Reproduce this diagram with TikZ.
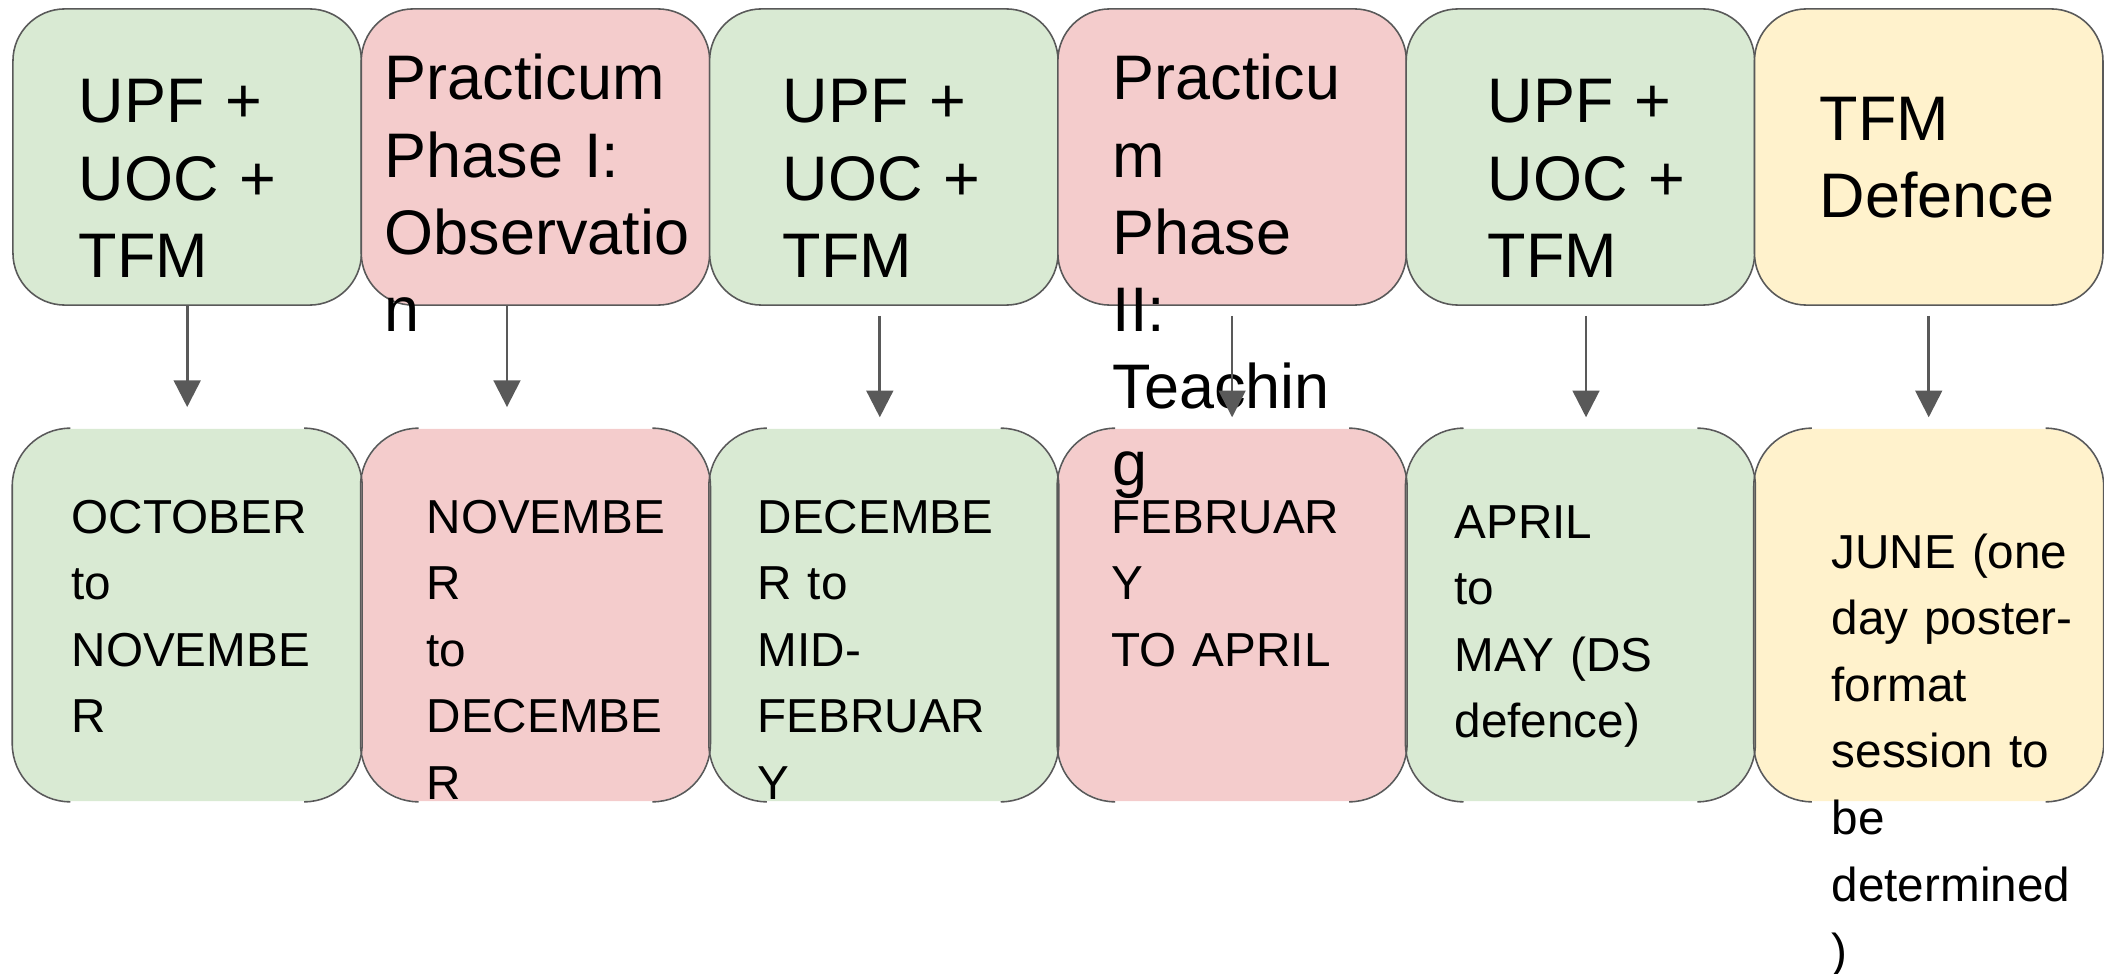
\documentclass[tikz,border=0pt]{standalone}
\usepackage{fontspec}
\setmainfont{Liberation Sans}
\usetikzlibrary{arrows.meta}
\definecolor{boxgreen}{HTML}{D9EAD3}
\definecolor{boxpink}{HTML}{F4CCCC}
\definecolor{boxyellow}{HTML}{FFF2CC}
\definecolor{edgegray}{HTML}{595959}

\tikzset{
  phasebox/.style  = {rectangle, rounded corners=0.52cm, draw=edgegray, line width=0.45pt,
                      minimum width=3.483cm, minimum height=2.96cm, inner sep=0pt},
  periodbox/.style = {rectangle, rounded corners=0.58cm, minimum width=3.483cm,
                      minimum height=3.72cm, inner sep=0pt},
  sideline/.style  = {draw=edgegray, line width=0.45pt, rounded corners=0.58cm},
  bigtext/.style   = {anchor=base west, inner sep=0pt, text width=3.6cm, align=left,
                      font=\fontsize{17.9}{21.9}\selectfont},
  smalltext/.style = {anchor=base west, inner sep=0pt, text width=3.6cm, align=left,
                      font=\fontsize{13.55}{18.95}\selectfont},
  tline/.style     = {draw=edgegray, line width=0.75pt, -{Triangle[length=7.6pt,width=7.6pt]}}
}

\begin{document}
\begin{tikzpicture}[x=0.01cm, y=-0.01cm]
   \useasboundingbox (0,0) rectangle (2104,973);

   \node [phasebox, fill=boxgreen ] (t1) at ( 187.2,157) {};
   \node [phasebox, fill=boxpink  ] (t2) at ( 535.5,157) {};
   \node [phasebox, fill=boxgreen ] (t3) at ( 883.8,157) {};
   \node [phasebox, fill=boxpink  ] (t4) at (1232.1,157) {};
   \node [phasebox, fill=boxgreen ] (t5) at (1580.4,157) {};
   \node [phasebox, fill=boxyellow] (t6) at (1928.7,157) {};

   \node [periodbox, fill=boxgreen ] (b1) at ( 187.2,615) {};
   \node [periodbox, fill=boxpink  ] (b2) at ( 535.5,615) {};
   \node [periodbox, fill=boxgreen ] (b3) at ( 883.8,615) {};
   \node [periodbox, fill=boxpink  ] (b4) at (1232.1,615) {};
   \node [periodbox, fill=boxgreen ] (b5) at (1580.4,615) {};
   \node [periodbox, fill=boxyellow] (b6) at (1928.7,615) {};

   \foreach \n in {b1,b2,b3,b4,b5,b6} {
      \draw [sideline] ([xshift=0.58cm]\n.north west) -- (\n.north west) -- (\n.south west) -- ([xshift=0.58cm]\n.south west);
      \draw [sideline] ([xshift=-0.58cm]\n.north east) -- (\n.north east) -- (\n.south east) -- ([xshift=-0.58cm]\n.south east);
   }

   \node [bigtext] (t1text) at (  78,123) {UPF +\\UOC +\\TFM};
   \node [bigtext] (t2text) at ( 384,100) {Practicum\\Phase I:\\Observatio\\n};
   \node [bigtext] (t3text) at ( 782,123) {UPF +\\UOC +\\TFM};
   \node [bigtext] (t4text) at (1112,100) {Practicu\\m\\Phase\\II:\\Teachin\\g};
   \node [bigtext] (t5text) at (1487,123) {UPF +\\UOC +\\TFM};
   \node [bigtext] (t6text) at (1819,140) {TFM\\Defence};

   \node [smalltext] (b1text) at (  71,533) {OCTOBER\\to\\NOVEMBE\\R};
   \node [smalltext] (b2text) at ( 426,533) {NOVEMBE\\R\\to\\DECEMBE\\R};
   \node [smalltext] (b3text) at ( 757,533) {DECEMBE\\R to\\MID-\\FEBRUAR\\Y};
   \node [smalltext] (b4text) at (1111,533) {FEBRUAR\\Y\\TO APRIL};
   \node [smalltext] (b5text) at (1454,538) {APRIL\\to\\MAY (DS\\defence)};
   \node [smalltext] (b6text) at (1831,568) {JUNE (one\\day poster-\\format\\session to\\be\\determined\\)};

   \draw [tline, shorten >=6pt] (t1.south) -- (b1.north);
   \draw [tline, shorten >=6pt] ([xshift=-0.285cm]t2.south) -- ([xshift=-0.285cm]b2.north);
   \draw [tline, shorten <=2.85pt, shorten >=3.1pt] ([xshift=-0.04cm]t3.south) -- ([xshift=-0.04cm]b3.north);
   \draw [tline, shorten <=2.85pt, shorten >=3.1pt] (t4.south) -- (b4.north);
   \draw [tline, shorten <=2.85pt, shorten >=3.1pt] ([xshift=0.056cm]t5.south) -- ([xshift=0.056cm]b5.north);
   \draw [tline, shorten <=2.85pt, shorten >=3.1pt] (t6.south) -- (b6.north);
\end{tikzpicture}
\end{document}
